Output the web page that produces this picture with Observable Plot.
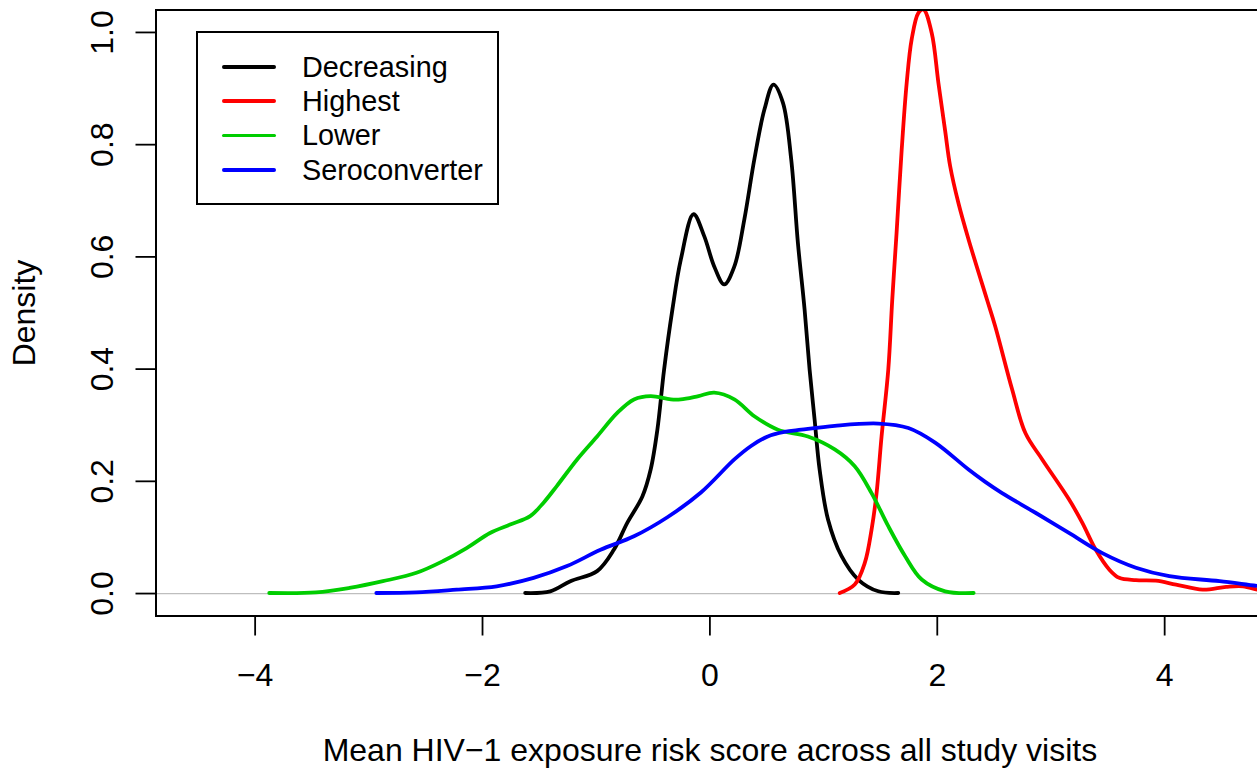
<!DOCTYPE html>
<html>
<head>
<meta charset="utf-8">
<script src="https://cdn.jsdelivr.net/npm/d3@7"></script>
<script src="https://cdn.jsdelivr.net/npm/@observablehq/plot@0.6"></script>
<style>
  html, body { margin: 0; padding: 0; background: #fff; overflow: hidden; }
  #chart { position: relative; width: 1257px; height: 769px; overflow: hidden;
           font-family: "Liberation Sans", Arial, Helvetica, sans-serif; }
  #chart svg { position: absolute; left: 0; top: 0; max-width: none !important;
               width: 1264px !important; height: 769px !important; }
  #legend { position: absolute; left: 196px; top: 30.7px; width: 299px; height: 170.3px;
            border: 2px solid #000; background: #fff; }
  .row { position: absolute; left: 0; height: 0; }
  .swatch { position: absolute; left: 24px; width: 54px; height: 3.8px; top: -1.9px; border-radius: 1.9px; }
  .label { position: absolute; left: 104px; top: -17px; font-size: 28.8px; line-height: 34px; white-space: nowrap; color: #000; }
</style>
</head>
<body>
<div id="chart"></div>
<script>
// Group names and their line colours
const groups = ["Decreasing", "Highest", "Lower", "Seroconverter"];
const colors = ["#000000", "#FF0000", "#00CD00", "#0000FF"];

// Kernel density estimates, [score, density] pairs per group
const decreasing = [
  [-1.625, 0.001], [-1.404, 0.004], [-1.227, 0.022], [-0.992, 0.040], [-0.845, 0.078],
  [-0.727, 0.126], [-0.594, 0.173], [-0.521, 0.221], [-0.462, 0.292], [-0.403, 0.399],
  [-0.330, 0.506], [-0.256, 0.595], [-0.144, 0.676], [-0.050, 0.637], [0.038, 0.583],
  [0.126, 0.551], [0.215, 0.583], [0.303, 0.667], [0.391, 0.774], [0.480, 0.863],
  [0.559, 0.907], [0.642, 0.875], [0.715, 0.774], [0.774, 0.625], [0.833, 0.506],
  [0.877, 0.399], [0.921, 0.310], [0.965, 0.221], [1.039, 0.132], [1.157, 0.067],
  [1.304, 0.025], [1.481, 0.004], [1.657, 0.001]
];
const highest = [
  [1.142, 0.001], [1.274, 0.016], [1.363, 0.055], [1.422, 0.114], [1.466, 0.179],
  [1.510, 0.280], [1.569, 0.399], [1.604, 0.524], [1.642, 0.643], [1.687, 0.791],
  [1.731, 0.910], [1.775, 0.988], [1.834, 1.035], [1.878, 1.041], [1.951, 0.999],
  [2.010, 0.910], [2.069, 0.825], [2.113, 0.762], [2.187, 0.695], [2.275, 0.631],
  [2.437, 0.524], [2.510, 0.476], [2.658, 0.364], [2.775, 0.286], [2.923, 0.239],
  [3.158, 0.168], [3.276, 0.126], [3.394, 0.078], [3.512, 0.043], [3.600, 0.028],
  [3.747, 0.024], [3.923, 0.023], [4.100, 0.016], [4.335, 0.007], [4.541, 0.012],
  [4.689, 0.013], [4.839, 0.006], [5.000, 0.003]
];
const lower = [
  [-3.876, 0.001], [-3.464, 0.002], [-3.170, 0.010], [-2.876, 0.022], [-2.581, 0.037],
  [-2.346, 0.058], [-2.140, 0.081], [-1.934, 0.108], [-1.757, 0.123], [-1.581, 0.138],
  [-1.463, 0.162], [-1.345, 0.192], [-1.168, 0.239], [-0.992, 0.280], [-0.815, 0.322],
  [-0.668, 0.346], [-0.521, 0.352], [-0.344, 0.346], [-0.256, 0.346], [-0.100, 0.352],
  [0.038, 0.358], [0.215, 0.346], [0.391, 0.316], [0.598, 0.292], [0.862, 0.280],
  [1.098, 0.257], [1.274, 0.227], [1.422, 0.179], [1.569, 0.120], [1.716, 0.067],
  [1.863, 0.025], [2.069, 0.004], [2.320, 0.001]
];
const seroconverter = [
  [-2.934, 0.001], [-2.581, 0.002], [-2.228, 0.007], [-1.875, 0.013], [-1.551, 0.028],
  [-1.257, 0.049], [-0.962, 0.078], [-0.668, 0.102], [-0.374, 0.136], [-0.079, 0.180],
  [0.215, 0.239], [0.362, 0.263], [0.509, 0.280], [0.656, 0.288], [0.804, 0.292],
  [1.098, 0.299], [1.481, 0.303], [1.746, 0.295], [1.981, 0.269], [2.275, 0.221],
  [2.422, 0.199], [2.570, 0.179], [2.864, 0.144], [3.158, 0.108], [3.452, 0.072],
  [3.747, 0.046], [4.041, 0.031], [4.483, 0.022], [4.839, 0.013], [5.000, 0.010]
];

// Axis ticks and titles
const xTicks = [-4, -2, 0, 2, 4];
const yTicks = [0, 0.2, 0.4, 0.6, 0.8, 1.0];
const xTitle = "Mean HIV\u22121 exposure risk score across all study visits";
const yTitle = "Density";

const series = [decreasing, highest, lower, seroconverter];

const lineMarks = series.map((pts, i) =>
  Plot.line(pts, {
    x: d => d[0], y: d => d[1],
    stroke: colors[i], strokeWidth: 3.8,
    curve: "catmull-rom", clip: true
  })
);

const plot = Plot.plot({
  width: 1264,
  height: 769,
  marginLeft: 155.5,
  marginRight: 0.7,
  marginTop: 9.5,
  marginBottom: 153.5,
  x: {domain: [-4.872, 4.872]},
  y: {domain: [-0.04, 1.04]},
  style: {
    fontFamily: "'Liberation Sans', Arial, Helvetica, sans-serif",
    fontSize: "32px",
    background: "#fff",
    color: "#000"
  },
  marks: [
    Plot.ruleY([0], {stroke: "#BEBEBE", strokeWidth: 1.3}),
    ...lineMarks,
    Plot.frame({stroke: "#000", strokeWidth: 2}),
    Plot.axisX({ticks: xTicks, tickSize: 20, tickPadding: 27.5, strokeWidth: 1.8,
                fontSize: 32, label: null}),
    Plot.axisY({ticks: yTicks, tickSize: 20, tickPadding: 23.5, tickRotate: -90,
                tickFormat: d3.format(".1f"), strokeWidth: 1.8, fontSize: 32, label: null}),
    Plot.text([xTitle], {text: d => d, frameAnchor: "bottom", dy: 144.5,
                         lineAnchor: "bottom", textAnchor: "middle", fontSize: 32}),
    Plot.text([yTitle], {text: d => d, frameAnchor: "left", dx: -121.5, rotate: -90,
                         lineAnchor: "bottom", textAnchor: "middle", fontSize: 32})
  ]
});

const chart = document.getElementById("chart");
chart.appendChild(plot);

// Legend box in the upper left of the panel
const legend = document.createElement("div");
legend.id = "legend";
const rowTops = [34, 68.4, 102.8, 137.2];
groups.forEach((g, i) => {
  const row = document.createElement("div");
  row.className = "row";
  row.style.top = rowTops[i] + "px";
  const sw = document.createElement("div");
  sw.className = "swatch";
  sw.style.background = colors[i];
  const lb = document.createElement("div");
  lb.className = "label";
  lb.textContent = g;
  row.appendChild(sw);
  row.appendChild(lb);
  legend.appendChild(row);
});
chart.appendChild(legend);
</script>
</body>
</html>
